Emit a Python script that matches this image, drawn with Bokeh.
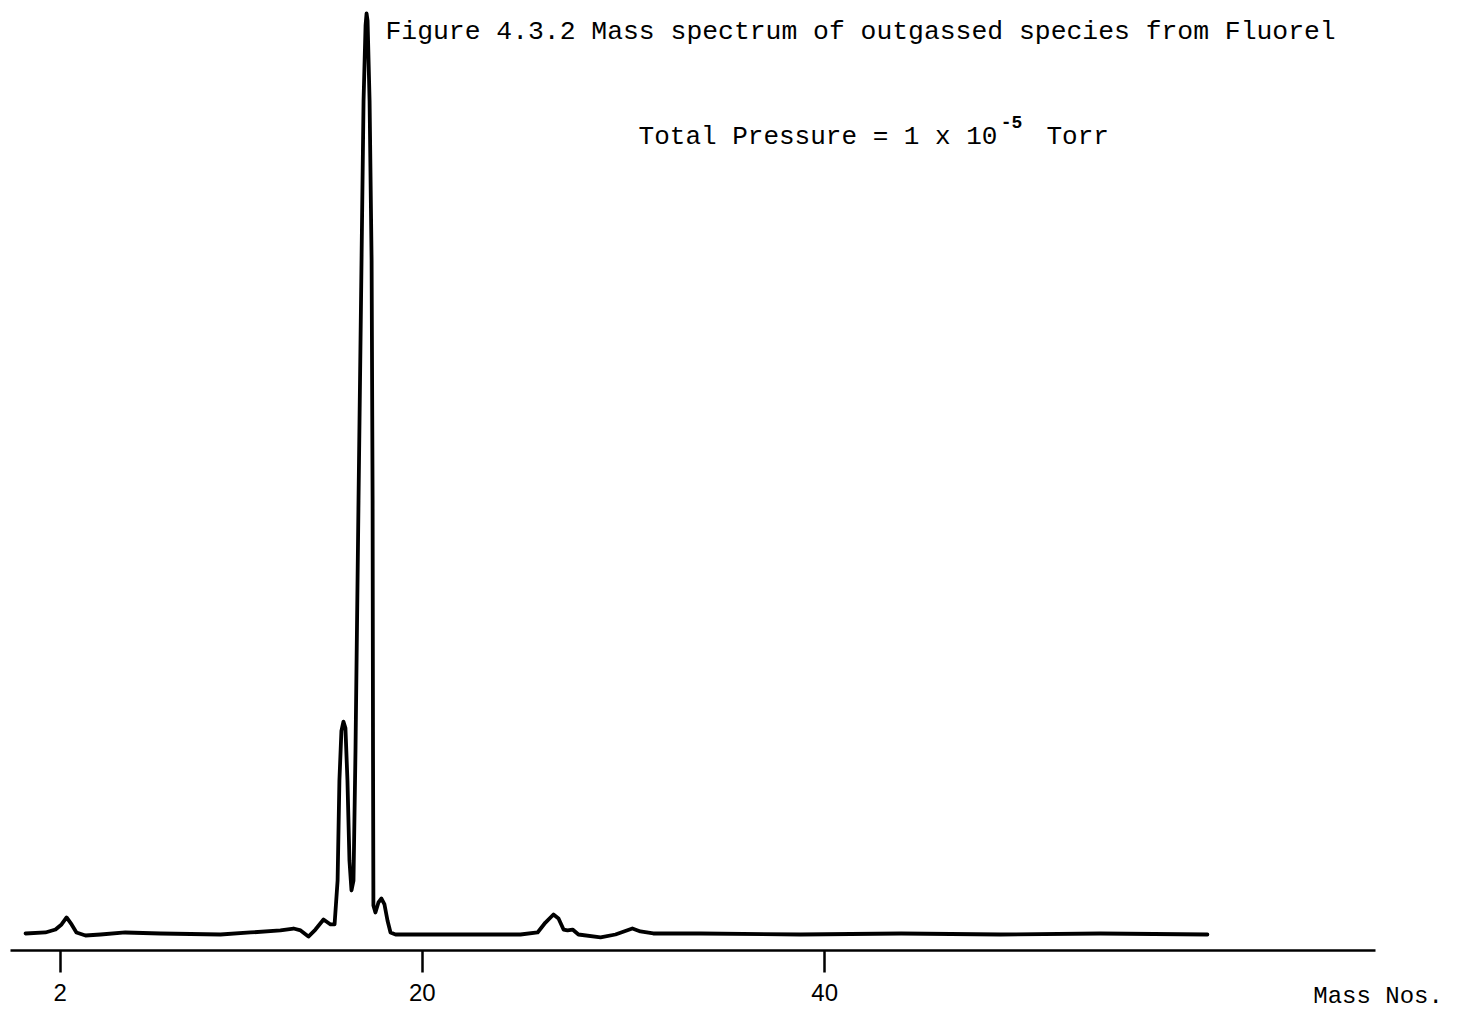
from bokeh.plotting import figure
from bokeh.models import Label, FixedTicker, Range1d
from bokeh.embed import file_html
from bokeh.resources import INLINE

# ---- data (mass number, relative intensity) ----
mass = [0.28, 1.27, 1.77, 2.07, 2.32, 2.57, 2.81, 3.26, 4.01, 5.24, 6.99, 9.97,
        11.46, 12.95, 13.60, 13.95, 14.34, 14.69, 15.09, 15.44, 15.64, 15.79,
        15.88, 15.98, 16.08, 16.18, 16.28, 16.38, 16.48, 16.58, 16.68, 16.83,
        16.98, 17.08, 17.18, 17.23, 17.28, 17.38, 17.48, 17.53, 17.55, 17.57,
        17.67, 17.82, 17.97, 18.12, 18.27, 18.42, 18.67, 21.40, 24.88, 25.73,
        26.12, 26.52, 26.77, 27.02, 27.22, 27.47, 27.76, 28.86, 29.60, 30.44,
        30.84, 31.48, 33.83, 38.80, 43.80, 48.74, 53.70, 59.02]
intensity = [0.0, 0.11, 0.43, 0.98, 1.74, 0.98, 0.11, -0.22, -0.11, 0.11, 0.0, -0.11,
             0.11, 0.33, 0.54, 0.33, -0.33, 0.43, 1.52, 0.98, 0.98, 5.75,
             16.6, 22.0, 23.0, 22.3, 16.6, 7.9, 4.67, 5.75, 19.9, 47.0,
             73.1, 90.4, 98.6, 99.9, 99.1, 90.4, 73.1, 47.0, 19.9, 3.04,
             2.28, 3.37, 3.80, 3.15, 1.41, 0.11, -0.11, -0.11, -0.11, 0.11,
             1.19, 2.06, 1.63, 0.43, 0.33, 0.43, -0.11, -0.43, -0.11, 0.54,
             0.22, 0.0, 0.0, -0.11, 0.0, -0.11, 0.0, -0.11]
tick_values = [2, 20, 40]
tick_labels = ["2", "20", "40"]

title_text = "Figure 4.3.2 Mass spectrum of outgassed species from Fluorel"
pressure_text = "Total Pressure = 1 x 10"
pressure_exp = "-5"
pressure_unit = "Torr"
xlabel_text = "Mass Nos."

# axis extent and baseline of the axis (data units)
axis_start, axis_end = -0.467, 67.37
axis_y = -1.846

p = figure(width=1459, height=1011, output_backend="svg", toolbar_location=None,
           x_range=Range1d(-0.964, 71.55), y_range=Range1d(-8.47, 101.3),
           y_axis_location=None, min_border_left=0, min_border_right=0,
           min_border_top=0, min_border_bottom=0)
p.outline_line_color = None
p.xgrid.visible = False
p.ygrid.visible = False
p.background_fill_color = "white"
p.border_fill_color = "white"

p.line(mass, intensity, line_color="black", line_width=3.8,
       line_join="round", line_cap="round")

ax = p.xaxis[0]
ax.fixed_location = axis_y
ax.bounds = (axis_start, axis_end)
ax.ticker = FixedTicker(ticks=tick_values)
ax.major_label_overrides = {v: l for v, l in zip(tick_values, tick_labels)}
ax.axis_line_color = "black"
ax.axis_line_width = 2.5
ax.major_tick_line_color = "black"
ax.major_tick_line_width = 2.5
ax.major_tick_in = 0
ax.major_tick_out = 22
ax.minor_tick_line_color = None
ax.major_label_standoff = 12
ax.major_label_text_font = "Liberation Sans"
ax.major_label_text_font_size = "24px"
ax.major_label_text_color = "black"

mono = "Liberation Mono"
p.add_layout(Label(x=18.17, y=97.9, text=title_text, text_font=mono,
                   text_font_size="26.4px", text_color="black",
                   text_baseline="middle", text_align="left"))
p.add_layout(Label(x=30.75, y=86.5, text=pressure_text, text_font=mono,
                   text_font_size="26px", text_color="black",
                   text_baseline="middle", text_align="left"))
p.add_layout(Label(x=48.75, y=88.1, text=pressure_exp, text_font=mono,
                   text_font_size="18px", text_color="black", text_font_style="bold",
                   text_baseline="middle", text_align="left"))
p.add_layout(Label(x=51.02, y=86.5, text=pressure_unit, text_font=mono,
                   text_font_size="26px", text_color="black",
                   text_baseline="middle", text_align="left"))
p.add_layout(Label(x=64.28, y=-6.84, text=xlabel_text, text_font=mono,
                   text_font_size="24px", text_color="black",
                   text_baseline="middle", text_align="left"))

open("out.html", "w").write(file_html(p, INLINE))
